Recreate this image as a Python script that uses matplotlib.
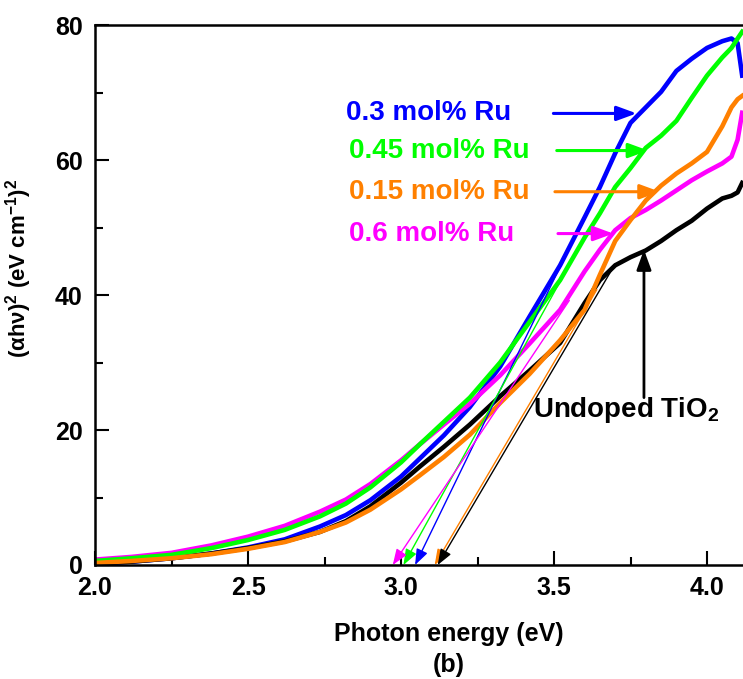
import matplotlib
matplotlib.use("Agg")
import matplotlib.pyplot as plt
from matplotlib.ticker import MultipleLocator

plt.rcParams["font.family"] = ["Liberation Sans", "DejaVu Sans"]
plt.rcParams["font.weight"] = "bold"
plt.rcParams["mathtext.fontset"] = "custom"
plt.rcParams["mathtext.rm"] = "Liberation Sans"
plt.rcParams["mathtext.it"] = "Liberation Sans"
plt.rcParams["mathtext.bf"] = "Liberation Sans:bold"

# photon energy grid (eV) and (alpha h nu)^2
energy = [2.0, 2.12, 2.25, 2.38, 2.5, 2.62, 2.735, 2.82, 2.9, 3.0, 3.062, 3.14,
          3.225, 3.324, 3.42, 3.52, 3.6, 3.65, 3.7, 3.75, 3.8, 3.85, 3.9, 3.95,
          4.0, 4.05, 4.08, 4.1, 4.115]
ru_03 = [0.2, 0.5, 1.0, 1.7, 2.6, 3.8, 5.7, 7.4, 9.6, 13.1, 15.8, 19.2,
         23.4, 29.4, 36.8, 44.4, 51.5, 56.0, 61.0, 65.5, 67.8, 70.1, 73.2, 75.0,
         76.6, 77.6, 78.0, 77.3, 72.5]
ru_045 = [0.6, 1.0, 1.5, 2.5, 3.7, 5.2, 7.2, 9.1, 11.5, 15.2, 17.9, 21.2,
          24.8, 30.0, 36.0, 42.2, 48.5, 52.1, 56.0, 58.8, 61.8, 63.6, 65.8, 69.2,
          72.5, 75.2, 76.6, 78.0, 79.0]
ru_015 = [0.3, 0.6, 1.0, 1.6, 2.4, 3.4, 4.9, 6.3, 8.2, 11.2, 13.3, 16.0,
          19.3, 24.0, 28.3, 33.3, 37.8, 43.0, 48.0, 51.1, 54.0, 56.2, 58.0, 59.5,
          61.2, 65.0, 67.8, 69.0, 69.5]
ru_06 = [0.8, 1.2, 1.8, 2.9, 4.2, 5.8, 7.9, 9.7, 12.0, 15.5, 17.9, 20.8,
         23.9, 28.1, 32.8, 37.8, 43.5, 46.7, 49.6, 51.4, 52.6, 54.0, 55.5, 57.0,
         58.3, 59.5, 60.5, 63.0, 67.0]
undoped = [0.2, 0.5, 1.0, 1.7, 2.5, 3.5, 4.9, 6.5, 8.7, 12.2, 14.6, 17.5,
           20.8, 25.0, 28.8, 32.9, 38.8, 42.2, 44.4, 45.6, 46.6, 48.0, 49.6, 51.0,
           52.8, 54.3, 54.7, 55.2, 56.6]

labels = ["0.3 mol% Ru", "0.45 mol% Ru", "0.15 mol% Ru", "0.6 mol% Ru"]
colors = ["#0000ff", "#00ff00", "#ff8000", "#ff00ff"]

# band-gap extrapolation lines: start point on curve -> x intercept
tangent_start = [(3.62, 53.5), (3.62, 50.2), (3.64, 40.8), (3.55, 39.2), (3.70, 44.6)]
tangent_gap = [3.046, 3.008, 3.11, 2.973, 3.12]

# label arrows: (arrow start x, arrow tip x, y) and text position
label_arrows = [(3.498, 3.770, 66.9), (3.509, 3.808, 61.4),
                (3.503, 3.846, 55.3), (3.513, 3.694, 49.1)]
label_pos = [(2.82, 66.9), (2.83, 61.4), (2.83, 55.3), (2.83, 49.1)]

fig = plt.figure(figsize=(7.43, 6.79), dpi=100)
ax = fig.add_axes([95 / 743, 114 / 679, 650 / 743, 540 / 679])

ax.plot(energy, ru_03, color=colors[0], lw=3.3)
ax.plot(energy, undoped, color="black", lw=3.3)
ax.plot(energy, ru_06, color=colors[3], lw=3.3)
ax.plot(energy, ru_045, color=colors[1], lw=3.3)
ax.plot(energy, ru_015, color=colors[2], lw=3.3)

tcolors = colors + ["black"]
for (x0, y0), gap, c in zip(tangent_start, tangent_gap, tcolors):
    ax.annotate("", xy=(gap, 0), xytext=(x0, y0),
                arrowprops=dict(arrowstyle="-|>,head_length=0.8,head_width=0.3",
                                color=c, lw=1.0, mutation_scale=12,
                                shrinkA=0, shrinkB=0))

for lab, c, (x0, x1, y), (tx, ty) in zip(labels, colors, label_arrows, label_pos):
    ax.text(tx, ty, lab, color=c, fontsize=20, fontweight="bold", va="center", ha="left")
    ax.annotate("", xy=(x1, y), xytext=(x0, y),
                arrowprops=dict(arrowstyle="-|>,head_length=0.6,head_width=0.22",
                                color=c, lw=2.2, mutation_scale=20,
                                shrinkA=0, shrinkB=0))

ax.text(3.43, 23.0, r"Undoped TiO$_\mathbf{2}$", fontsize=20, fontweight="bold", va="center")
ax.annotate("", xy=(3.794, 46.7), xytext=(3.794, 24.8),
            arrowprops=dict(arrowstyle="-|>,head_length=0.6,head_width=0.22",
                            color="black", lw=2.0, mutation_scale=20,
                            shrinkA=0, shrinkB=0))

ax.set_xlim(2.0, 2.0 + 650 / 306)
ax.set_ylim(0, 80)
ax.xaxis.set_major_locator(MultipleLocator(0.5))
ax.xaxis.set_minor_locator(MultipleLocator(0.25))
ax.yaxis.set_major_locator(MultipleLocator(20))
ax.yaxis.set_minor_locator(MultipleLocator(10))
ax.tick_params(which="both", direction="in", width=1.5, labelsize=18,
               top=False, right=False)
ax.tick_params(axis="x", pad=8)
ax.tick_params(axis="y", pad=9)
ax.tick_params(which="major", length=10)
ax.tick_params(which="minor", length=6)
for s in ax.spines.values():
    s.set_linewidth(1.8)
ax.spines["right"].set_visible(False)

ax.set_xlabel("Photon energy (eV)", fontsize=18, fontweight="bold")
ax.xaxis.set_label_coords(0.544, -0.105)
ax.set_ylabel(r"$\mathrm{(αhν)}^\mathbf{2}$ (eV cm$^\mathbf{-1}$)$^\mathbf{2}$",
              fontsize=16, fontweight="bold")
ax.yaxis.set_label_coords(-0.094, 0.55)
ax.text(0.544, -0.185, "(b)", transform=ax.transAxes, fontsize=18, fontweight="bold",
        ha="center", va="center")

fig.savefig("out.png", dpi=100)
